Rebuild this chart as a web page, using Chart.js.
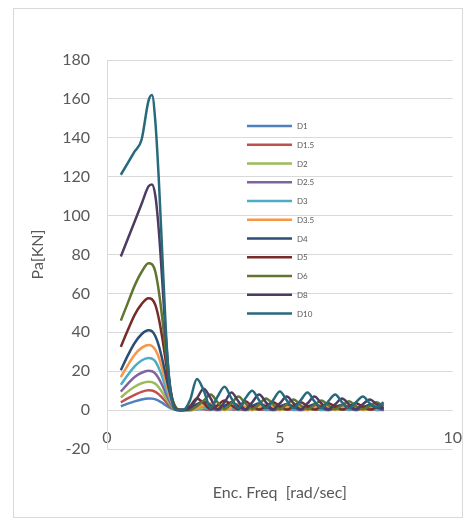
<!DOCTYPE html>
<html>
<head>
<meta charset="utf-8">
<script src="https://cdn.jsdelivr.net/npm/chart.js@4.4.1/dist/chart.umd.min.js"></script>
<style>
  html, body { margin: 0; padding: 0; background: #fff; }
  #wrap { position: relative; width: 464px; height: 518px; }
  #chart { position: absolute; left: 0; top: 0; }
  #frame { position: absolute; left: 13px; top: 8px; width: 448px; height: 508px;
           border: 1px solid #d9d9d9; pointer-events: none; }
</style>
</head>
<body>
<div id="wrap">
  <canvas id="chart" width="464" height="518"></canvas>
  <div id="frame"></div>
</div>
<script>
// 频率轴 (rad/sec)
var freq = [0.4, 0.6, 0.8, 1.0, 1.2, 1.3, 1.4, 1.5, 1.6, 1.7, 1.8, 1.9, 2.0, 2.1, 2.2,
            2.4, 2.6, 2.8, 3.0, 3.2, 3.4, 3.6, 3.8, 4.0, 4.2, 4.4, 4.6, 4.8, 5.0, 5.2,
            5.4, 5.6, 5.8, 6.0, 6.2, 6.4, 6.6, 6.8, 7.0, 7.2, 7.4, 7.6, 7.8, 8.0];

var seriesNames = ["D1", "D1.5", "D2", "D2.5", "D3", "D3.5", "D4", "D5", "D6", "D8", "D10"];
var seriesColors = ["#4F81BD", "#C0504D", "#9BBB59", "#8064A2", "#4BACC6", "#F79646",
                    "#2C4D75", "#772C2A", "#5F7530", "#4D3B62", "#276A7C"];

var d1 = [2, 3.3, 4.5, 5.5, 6, 5.9, 5.5, 4.7, 3.7, 2.5, 1.4, 0.6, 0.1, 0, 0,
          0.1, 0.3, 0.5, 0.3, 0.1, 0.3, 0.5, 0.3, 0.1, 0.2, 0.4, 0.2, 0.1, 0.2, 0.4,
          0.2, 0.1, 0.2, 0.4, 0.2, 0.1, 0.2, 0.3, 0.2, 0.1, 0.2, 0.3, 0.2, 0.1];
var d15 = [4, 6, 7.8, 9.4, 10.2, 10.1, 9.4, 8.1, 6.3, 4.3, 2.4, 1, 0.2, 0, 0,
           0.5, 1, 0.5, 0.1, 0.5, 0.9, 0.5, 0.1, 0.4, 0.9, 0.4, 0.1, 0.4, 0.8, 0.4,
           0.1, 0.4, 0.8, 0.4, 0.1, 0.4, 0.7, 0.4, 0.1, 0.3, 0.7, 0.3, 0.1, 0.3];
var d2 = [6.5, 9.5, 12, 13.8, 14.6, 14.4, 13.5, 11.6, 9.1, 6.2, 3.5, 1.4, 0.3, 0, 0,
          0, 0.5, 1.1, 1.5, 0.8, 0.1, 0.7, 1.4, 0.7, 0.1, 0.7, 1.3, 0.6, 0.1, 0.6,
          1.2, 0.6, 0.1, 0.6, 1.1, 0.5, 0.1, 0.5, 1.1, 0.5, 0.1, 0.5, 1, 0.5];
var d25 = [9.5, 13.5, 17, 19.2, 20.2, 20, 18.8, 16.2, 12.7, 8.7, 4.9, 1.9, 0.4, 0, 0,
           0.3, 1.2, 2.2, 1.1, 0.1, 1, 2, 1, 0.1, 1, 1.9, 0.9, 0.1, 0.9, 1.8,
           0.9, 0.1, 0.8, 1.7, 0.8, 0.1, 0.8, 1.6, 0.8, 0.1, 0.8, 1.5, 0.7, 0.1];
var d3 = [13, 18, 22.5, 25.5, 26.8, 26.5, 25, 21.5, 17, 11.5, 6.5, 2.5, 0.5, 0, 0,
          1.5, 3, 1.5, 0.2, 1.4, 2.8, 1.4, 0.2, 1.3, 2.6, 1.3, 0.2, 1.2, 2.4, 1.2,
          0.2, 1.1, 2.3, 1.1, 0.2, 1.1, 2.2, 1.1, 0.2, 1, 2.1, 1, 0.2, 1];
var d35 = [17, 23, 28.5, 32, 33.5, 33, 31, 27, 21, 14.5, 8, 3, 0.5, 0, 0,
           0, 1, 2.5, 3.5, 1.8, 0.2, 1.6, 3.2, 1.6, 0.2, 1.5, 3, 1.5, 0.2, 1.4,
           2.8, 1.4, 0.2, 1.3, 2.6, 1.3, 0.2, 1.2, 2.5, 1.2, 0.2, 1.2, 2.4, 1.2];
var d4 = [20.5, 28, 34.5, 39, 41, 40.5, 38, 33, 26, 18, 10, 4, 1, 0, 0,
          1, 3, 4.5, 2.5, 0.3, 2, 4, 2, 0.3, 2, 3.5, 1.8, 0.3, 1.8, 3.2,
          1.6, 0.3, 1.6, 3, 1.5, 0.3, 1.5, 2.8, 1.4, 0.3, 1.4, 2.6, 1.3, 0.3];
var d5 = [32.5, 41, 49, 54.5, 57.5, 57, 54, 47, 37, 25, 13, 5, 1, 0, 0,
          2, 6, 3.5, 0.5, 2.5, 5, 2.5, 0.5, 4.5, 2, 0.3, 2, 4, 2, 0.3,
          2, 4, 2, 0.3, 1.8, 3.5, 1.8, 0.3, 1.8, 3.5, 1.8, 0.3, 1.5, 3];
var d6 = [46, 55, 64, 71, 75.5, 75, 71, 61, 47, 30, 15, 5, 1, 0, 0,
          0, 2, 5, 8, 4, 0.5, 3.5, 7, 3.5, 0.5, 3, 6, 3, 0.5, 3,
          5.5, 2.5, 0.5, 2.5, 5, 2.5, 0.5, 2.5, 4.5, 2, 0.5, 2, 4, 2];
var d8 = [79, 88, 97, 106, 115, 116, 110, 92, 66, 38, 16, 4, 0.5, 0, 0,
          1, 6, 11, 6, 0.5, 4, 9, 4.5, 0.5, 4, 8, 4, 0.5, 3.5, 7,
          3.5, 0.5, 3.5, 7, 3.5, 0.5, 3, 6, 3, 0.5, 3, 5.5, 3, 1];
var d10 = [121, 127, 133, 139, 159, 162, 148, 118, 80, 42, 15, 3, 0, 0, 0,
           5, 16, 10, 1, 7, 12, 6, 1, 6, 10, 5, 1, 5, 9.5, 5,
           1, 5, 9, 4.5, 1, 4.5, 8, 4, 1, 4, 7, 3.5, 1.5, 4];

var seriesValues = [d1, d15, d2, d25, d3, d35, d4, d5, d6, d8, d10];

var yTicks = { min: -20, max: 180, step: 20 };
var xTicks = { min: 0, max: 10, step: 5 };

var axisGray = "#595959";
var gridGray = "#d9d9d9";
var FONT = "Lato, 'Open Sans', sans-serif";

var datasets = seriesNames.map(function (name, i) {
    return {
        label: name,
        data: freq.map(function (x, k) { return { x: x, y: seriesValues[i][k] }; }),
        borderColor: seriesColors[i],
        backgroundColor: seriesColors[i],
        borderWidth: 2.5,
        pointRadius: 0,
        cubicInterpolationMode: "monotone",
        order: seriesNames.length - i   // 后面的系列画在上面
    };
});

// 图内图例：线段 + 小字，位置照原图
var innerLegend = {
    id: "innerLegend",
    afterDraw: function (chart) {
        var ctx = chart.ctx;
        ctx.save();
        ctx.font = "8px " + FONT;
        ctx.textBaseline = "middle";
        chart.data.datasets.forEach(function (ds, i) {
            var y = 126 + i * 18.75;
            ctx.strokeStyle = ds.borderColor;
            ctx.lineWidth = 2.5;
            ctx.beginPath();
            ctx.moveTo(247, y);
            ctx.lineTo(292, y);
            ctx.stroke();
            ctx.fillStyle = axisGray;
            ctx.fillText(ds.label, 297, y + 0.5);
        });
        ctx.restore();
    }
};

new Chart(document.getElementById("chart"), {
    type: "line",
    data: { datasets: datasets },
    plugins: [innerLegend],
    options: {
        responsive: false,
        animation: false,
        devicePixelRatio: 1,
        layout: { padding: { left: 13, right: 11, top: 60, bottom: 0 } },
        plugins: { legend: { display: false }, tooltip: { enabled: false } },
        scales: {
            x: {
                type: "linear",
                min: xTicks.min,
                max: xTicks.max,
                afterFit: function (s) { s.height = 69; },
                grid: { display: false, drawTicks: false },
                border: { display: false },
                // mirror 让刻度字画在 -20 网格线上方，不被裁掉
                ticks: { stepSize: xTicks.step, mirror: true, padding: 2, color: axisGray,
                         font: { family: FONT, size: 16 } },
                title: { display: true, text: "Enc. Freq  [rad/sec]", color: axisGray,
                         font: { family: FONT, size: 16 }, padding: { top: 0, bottom: 16 } }
            },
            y: {
                min: yTicks.min,
                max: yTicks.max,
                afterFit: function (s) { s.width = 94; },
                grid: { color: gridGray, drawTicks: false },
                border: { display: true, color: gridGray },
                ticks: { stepSize: yTicks.step, padding: 17, color: axisGray, font: { family: FONT, size: 16 } },
                title: { display: true, text: "Pa[KN]", color: axisGray,
                         font: { family: FONT, size: 16 }, padding: { top: 15, bottom: 0 } }
            }
        }
    }
});
</script>
</body>
</html>
